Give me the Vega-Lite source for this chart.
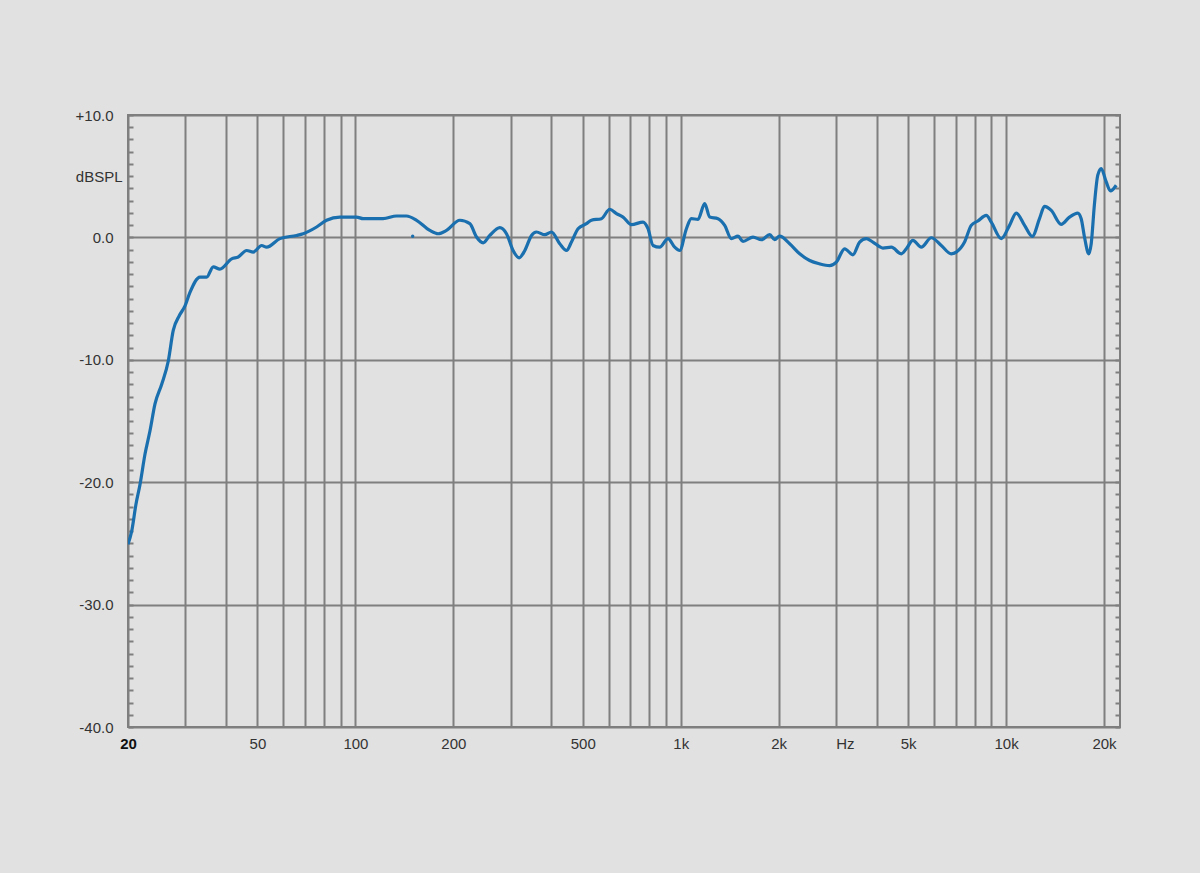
{
  "$schema": "https://vega.github.io/schema/vega-lite/v6.json",
  "width": 992,
  "height": 612,
  "autosize": {"type": "none"},
  "padding": {"left": 128, "top": 115, "right": 80, "bottom": 146},
  "background": "#e1e1e1",
  "config": {
    "view": {"stroke": "#7f7f7f", "strokeWidth": 2, "fill": "#e1e1e1"},
    "font": "Liberation Sans",
    "axis": {"labelFont": "Liberation Sans", "labelColor": "#333333", "labelFontSize": 15}
  },
  "datasets": {
    "curve": [
      {"f": 20, "db": -25.06},
      {"f": 20.53, "db": -24.0},
      {"f": 21.16, "db": -21.8},
      {"f": 21.77, "db": -20.2},
      {"f": 22.56, "db": -17.7},
      {"f": 23.37, "db": -15.8},
      {"f": 24.21, "db": -13.6},
      {"f": 25.39, "db": -12.0},
      {"f": 26.6, "db": -10.1},
      {"f": 27.55, "db": -7.6},
      {"f": 28.75, "db": -6.4},
      {"f": 29.94, "db": -5.6},
      {"f": 31.01, "db": -4.5},
      {"f": 33.29, "db": -3.25},
      {"f": 34.9, "db": -3.25},
      {"f": 36.57, "db": -2.4},
      {"f": 38.34, "db": -2.6},
      {"f": 41.65, "db": -1.75},
      {"f": 43.64, "db": -1.6},
      {"f": 46.31, "db": -1.07},
      {"f": 48.53, "db": -1.2},
      {"f": 51.49, "db": -0.66},
      {"f": 53.36, "db": -0.8},
      {"f": 58.61, "db": -0.1},
      {"f": 65.96, "db": 0.16},
      {"f": 69.11, "db": 0.3},
      {"f": 76.0, "db": 0.85},
      {"f": 81.55, "db": 1.4},
      {"f": 89.62, "db": 1.66},
      {"f": 100.8, "db": 1.66},
      {"f": 105.7, "db": 1.53},
      {"f": 121.7, "db": 1.53},
      {"f": 133.8, "db": 1.75},
      {"f": 143.6, "db": 1.75},
      {"f": 154.2, "db": 1.4},
      {"f": 169.4, "db": 0.57},
      {"f": 179.6, "db": 0.3},
      {"f": 190.6, "db": 0.57},
      {"f": 209.4, "db": 1.4},
      {"f": 224.8, "db": 1.12},
      {"f": 235.7, "db": 0.03},
      {"f": 247.0, "db": -0.44},
      {"f": 258.9, "db": 0.16},
      {"f": 277.9, "db": 0.8},
      {"f": 291.4, "db": 0.3},
      {"f": 305.3, "db": -1.07},
      {"f": 318.6, "db": -1.67},
      {"f": 331.7, "db": -1.07},
      {"f": 347.8, "db": 0.16},
      {"f": 360.3, "db": 0.44},
      {"f": 382.1, "db": 0.22},
      {"f": 400.5, "db": 0.44},
      {"f": 424.8, "db": -0.52},
      {"f": 445.5, "db": -1.07},
      {"f": 461.5, "db": -0.38},
      {"f": 483.5, "db": 0.71},
      {"f": 513.1, "db": 1.12},
      {"f": 531.6, "db": 1.4},
      {"f": 570.6, "db": 1.53},
      {"f": 605.0, "db": 2.3},
      {"f": 634.5, "db": 1.94},
      {"f": 664.8, "db": 1.66},
      {"f": 705.5, "db": 1.04},
      {"f": 765.8, "db": 1.25},
      {"f": 793.4, "db": 0.71},
      {"f": 822.0, "db": -0.66},
      {"f": 861.9, "db": -0.8},
      {"f": 914.0, "db": -0.1},
      {"f": 958.3, "db": -0.8},
      {"f": 992.9, "db": -1.07},
      {"f": 1041, "db": 0.71},
      {"f": 1078, "db": 1.53},
      {"f": 1130, "db": 1.48},
      {"f": 1185, "db": 2.76},
      {"f": 1228, "db": 1.66},
      {"f": 1302, "db": 1.53},
      {"f": 1365, "db": 0.98},
      {"f": 1431, "db": -0.1},
      {"f": 1500, "db": 0.1},
      {"f": 1554, "db": -0.33},
      {"f": 1668, "db": 0.03},
      {"f": 1770, "db": -0.19},
      {"f": 1877, "db": 0.22},
      {"f": 1944, "db": -0.19},
      {"f": 2014, "db": 0.1},
      {"f": 2162, "db": -0.52},
      {"f": 2321, "db": -1.34},
      {"f": 2491, "db": -1.89},
      {"f": 2673, "db": -2.16},
      {"f": 2869, "db": -2.3},
      {"f": 3008, "db": -2.02},
      {"f": 3190, "db": -0.93},
      {"f": 3383, "db": -1.42},
      {"f": 3548, "db": -0.38},
      {"f": 3720, "db": -0.1},
      {"f": 3896, "db": -0.38},
      {"f": 4183, "db": -0.87},
      {"f": 4440, "db": -0.8},
      {"f": 4764, "db": -1.34},
      {"f": 4936, "db": -0.93},
      {"f": 5172, "db": -0.25},
      {"f": 5489, "db": -0.8},
      {"f": 5891, "db": -0.03},
      {"f": 6323, "db": -0.66},
      {"f": 6784, "db": -1.34},
      {"f": 7031, "db": -1.2},
      {"f": 7456, "db": -0.38},
      {"f": 7817, "db": 0.98},
      {"f": 8191, "db": 1.34},
      {"f": 8694, "db": 1.8},
      {"f": 9006, "db": 1.25},
      {"f": 9666, "db": -0.1},
      {"f": 10250, "db": 0.98},
      {"f": 10750, "db": 1.99},
      {"f": 11400, "db": 0.98},
      {"f": 12040, "db": 0.08},
      {"f": 12670, "db": 1.53},
      {"f": 13130, "db": 2.54},
      {"f": 13770, "db": 2.21},
      {"f": 14770, "db": 1.07},
      {"f": 15670, "db": 1.66},
      {"f": 16610, "db": 1.99},
      {"f": 17020, "db": 1.53},
      {"f": 17420, "db": 0.03},
      {"f": 17960, "db": -1.34},
      {"f": 18270, "db": -0.52},
      {"f": 18700, "db": 2.76},
      {"f": 19140, "db": 5.08},
      {"f": 19610, "db": 5.63},
      {"f": 20320, "db": 4.53},
      {"f": 20940, "db": 3.8},
      {"f": 21810, "db": 4.26}
    ],
    "stray": [{"f": 150, "db": 0.1}]
  },
  "layer": [
    {
      "data": {"name": "curve"},
      "mark": {"type": "line", "color": "#1a6fae", "strokeWidth": 3.2, "interpolate": "monotone", "clip": true},
      "encoding": {
        "x": {
          "field": "f", "type": "quantitative",
          "scale": {"type": "log", "domain": [20, 22400], "nice": false},
          "axis": {
            "title": null,
            "values": [20, 30, 40, 50, 60, 70, 80, 90, 100, 200, 300, 400, 500, 600, 700, 800, 900, 1000, 2000, 3000, 4000, 5000, 6000, 7000, 8000, 9000, 10000, 20000],
            "labelExpr": "datum.value == 20 ? '20' : datum.value == 50 ? '50' : datum.value == 100 ? '100' : datum.value == 200 ? '200' : datum.value == 500 ? '500' : datum.value == 1000 ? '1k' : datum.value == 2000 ? '2k' : datum.value == 3000 ? 'Hz' : datum.value == 5000 ? '5k' : datum.value == 10000 ? '10k' : datum.value == 20000 ? '20k' : ''",
            "labelOverlap": false,
            "labelFlush": false,
            "labelPadding": 9,
            "labelFontSize": 15,
            "labelOffset": {"condition": {"test": "datum.value == 3000", "value": 9}, "value": 0},
            "labelColor": {"condition": {"test": "datum.value == 20", "value": "#111111"}, "value": "#333333"},
            "labelFontWeight": {"condition": {"test": "datum.value == 20", "value": "bold"}, "value": "normal"},
            "ticks": false,
            "domain": false,
            "grid": true,
            "gridColor": "#7f7f7f",
            "gridWidth": 2,
            "gridOpacity": 1
          }
        },
        "y": {
          "field": "db", "type": "quantitative",
          "scale": {"domain": [-40, 10], "nice": false, "zero": false},
          "axis": {
            "title": null,
            "values": [-40, -39, -38, -37, -36, -35, -34, -33, -32, -31, -30, -29, -28, -27, -26, -25, -24, -23, -22, -21, -20, -19, -18, -17, -16, -15, -14, -13, -12, -11, -10, -9, -8, -7, -6, -5, -4, -3, -2, -1, 0, 1, 2, 3, 4, 5, 6, 7, 8, 9, 10],
            "labelExpr": "datum.value == 10 ? '+10.0' : datum.value == 5 ? 'dBSPL' : datum.value == 0 ? '0.0' : (datum.value % 10 == 0 ? '-' + format(-datum.value, '.1f') : '')",
            "labelOverlap": false,
            "labelFlush": false,
            "labelPadding": {"condition": {"test": "datum.value == 5", "value": 11}, "value": 20},
            "labelFontSize": 15,
            "tickSize": -5,
            "tickColor": "#7f7f7f",
            "tickWidth": 2,
            "domain": false,
            "grid": true,
            "gridColor": "#7f7f7f",
            "gridWidth": 2,
            "gridOpacity": {"condition": {"test": "datum.value % 10 == 0", "value": 1}, "value": 0}
          }
        }
      }
    },
    {
      "data": {"name": "stray"},
      "mark": {"type": "circle", "color": "#1a6fae", "size": 12, "opacity": 1},
      "encoding": {
        "x": {"field": "f", "type": "quantitative"},
        "y": {
          "field": "db", "type": "quantitative",
          "axis": {
            "orient": "right",
            "title": null,
            "values": [-40, -39, -38, -37, -36, -35, -34, -33, -32, -31, -30, -29, -28, -27, -26, -25, -24, -23, -22, -21, -20, -19, -18, -17, -16, -15, -14, -13, -12, -11, -10, -9, -8, -7, -6, -5, -4, -3, -2, -1, 0, 1, 2, 3, 4, 5, 6, 7, 8, 9, 10],
            "labels": false,
            "tickSize": -5,
            "tickColor": "#7f7f7f",
            "tickWidth": 2,
            "domain": false,
            "grid": false
          }
        }
      }
    }
  ],
  "resolve": {"axis": {"y": "independent"}}
}
